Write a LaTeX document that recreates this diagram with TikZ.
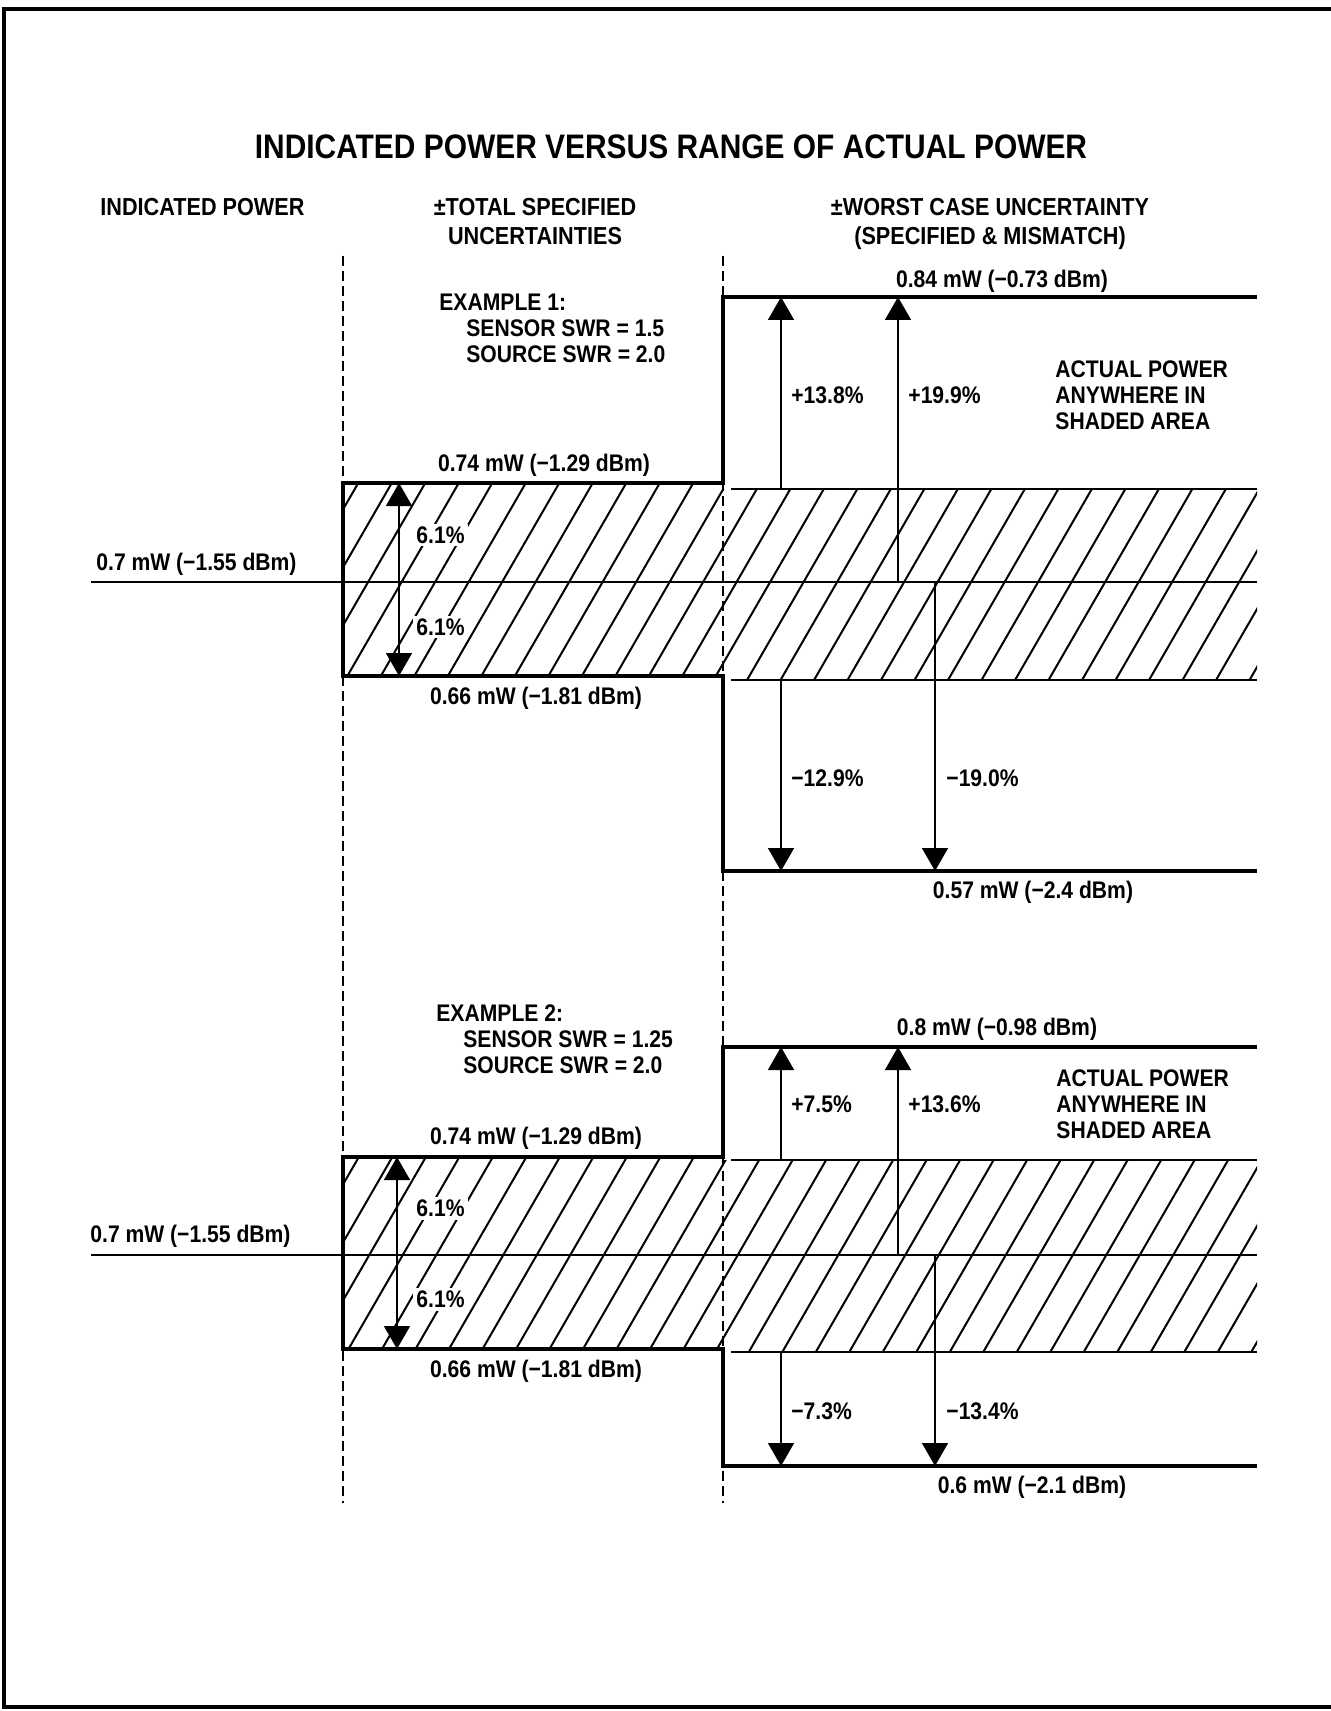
\documentclass[tikz,border=0pt]{standalone}
\usepackage{fontspec}
\setmainfont{Liberation Sans}[FakeStretch=0.88]
\usetikzlibrary{arrows.meta}
\tikzset{
  heavy/.style={line width=2.2pt},
  medline/.style={line width=1.4pt},
  thinline/.style={line width=0.9pt},
  hatchline/.style={line width=1pt},
  dashv/.style={line width=0.9pt, dash pattern=on 5pt off 2.5pt},
  arr/.style={line width=0.8pt, -{Triangle[length=11.5pt,width=13pt]}},
  darr/.style={line width=0.8pt, {Triangle[length=11.5pt,width=13pt]}-{Triangle[length=11.5pt,width=13pt]}},
  lbl/.style={font=\fontsize{12}{14}\selectfont\bfseries, inner sep=1pt},
  hdr/.style={font=\fontsize{12.3}{14.5}\selectfont\bfseries, inner sep=1pt, align=center},
  ttl/.style={font=\fontsize{17}{20}\selectfont\bfseries, inner sep=1pt},
  pct/.style={lbl, fill=white, inner sep=1.5pt},
  txtblock/.style={lbl, align=left, anchor=north west, font=\fontsize{12}{13}\selectfont\bfseries}
}
\begin{document}
\begin{tikzpicture}[x=0.5pt,y=-0.5pt]
\useasboundingbox (0,0) rectangle (1331,1711);
% frame
\draw[line width=1.8pt] (1331,9) -- (4,9) -- (4,1707) -- (1331,1707);

% title and headers
\node[ttl] (title) at (671,147) {INDICATED POWER VERSUS RANGE OF ACTUAL POWER};
\node[hdr, anchor=west] (h1) at (98,207) {INDICATED POWER};
\node[hdr] (h2) at (535,222) {±TOTAL SPECIFIED\\UNCERTAINTIES};
\node[hdr] (h3) at (990,224) {±WORST CASE UNCERTAINTY\\(SPECIFIED \& MISMATCH)};

% dashed column dividers
\draw[dashv] (343,256) -- (343,1503);
\draw[dashv] (723,256) -- (723,1503);

% ================= EXAMPLE 1 =================
\begin{scope}
\clip (343,483) rectangle (723,676) (723,489) rectangle (1257,680);
\foreach \i in {-4,...,30} \draw[hatchline] (300+\i*33.5,700) -- ++(127,-220);
\end{scope}
\draw[heavy] (1257,297) -- (723,297) -- (723,483) -- (343,483) -- (343,676) -- (723,676) -- (723,871) -- (1257,871);
\draw[medline] (731,489) -- (1257,489);
\draw[medline] (731,680) -- (1257,680);
\coordinate (m1l) at (91,582);
\coordinate (m1r) at (1257,582);
\draw[thinline] (m1l) -- (m1r);

\coordinate (a1t) at (399,483); \coordinate (a1b) at (399,676);
\draw[darr] (a1t) -- (a1b);
\coordinate (u1s) at (781,489); \coordinate (u1e) at (781,297);
\coordinate (u2s) at (898,582); \coordinate (u2e) at (898,297);
\coordinate (d1s) at (781,680); \coordinate (d1e) at (781,871);
\coordinate (d2s) at (935,582); \coordinate (d2e) at (935,871);
\draw[arr] (u1s) -- (u1e);
\draw[arr] (u2s) -- (u2e);
\draw[arr] (d1s) -- (d1e);
\draw[arr] (d2s) -- (d2e);

\node[txtblock] (ex1) at (437,292) {EXAMPLE 1:\\\hspace*{13.5pt}SENSOR SWR = 1.5\\\hspace*{13.5pt}SOURCE SWR = 2.0};
\node[lbl] (p1top) at (544,465) {0.74 mW (−1.29 dBm)};
\node[lbl] (p1bot) at (536,698) {0.66 mW (−1.81 dBm)};
\node[lbl, anchor=west] (ind1) at (94,564) {0.7 mW (−1.55 dBm)};
\node[pct, anchor=west] (s1a) at (413,535) {6.1\%};
\node[pct, anchor=west] (s1b) at (413,627) {6.1\%};
\node[lbl] (w1top) at (1002,281) {0.84 mW (−0.73 dBm)};
\node[lbl] (w1bot) at (1033,892) {0.57 mW (−2.4 dBm)};
\node[lbl, anchor=west] (u1l) at (789,395) {+13.8\%};
\node[lbl, anchor=west] (u2l) at (906,395) {+19.9\%};
\node[lbl, anchor=west] (d1l) at (789,778) {−12.9\%};
\node[lbl, anchor=west] (d2l) at (944,778) {−19.0\%};
\node[txtblock] (act1) at (1053,358) {ACTUAL POWER\\ANYWHERE IN\\SHADED AREA};

% ================= EXAMPLE 2 =================
\begin{scope}
\clip (343,1157) rectangle (723,1349) (723,1160) rectangle (1257,1352);
\foreach \i in {-4,...,30} \draw[hatchline] (300+\i*33.5,1375) -- ++(127,-220);
\end{scope}
\draw[heavy] (1257,1047) -- (723,1047) -- (723,1157) -- (343,1157) -- (343,1349) -- (723,1349) -- (723,1466) -- (1257,1466);
\draw[medline] (731,1160) -- (1257,1160);
\draw[medline] (731,1352) -- (1257,1352);
\coordinate (m2l) at (91,1255);
\coordinate (m2r) at (1257,1255);
\draw[thinline] (m2l) -- (m2r);

\coordinate (a2t) at (397,1157); \coordinate (a2b) at (397,1349);
\draw[darr] (a2t) -- (a2b);
\coordinate (v1s) at (781,1160); \coordinate (v1e) at (781,1047);
\coordinate (v2s) at (898,1255); \coordinate (v2e) at (898,1047);
\coordinate (e1s) at (781,1352); \coordinate (e1e) at (781,1466);
\coordinate (e2s) at (935,1255); \coordinate (e2e) at (935,1466);
\draw[arr] (v1s) -- (v1e);
\draw[arr] (v2s) -- (v2e);
\draw[arr] (e1s) -- (e1e);
\draw[arr] (e2s) -- (e2e);

\node[txtblock] (ex2) at (434,1002) {EXAMPLE 2:\\\hspace*{13.5pt}SENSOR SWR = 1.25\\\hspace*{13.5pt}SOURCE SWR = 2.0};
\node[lbl] (p2top) at (536,1138) {0.74 mW (−1.29 dBm)};
\node[lbl] (p2bot) at (536,1371) {0.66 mW (−1.81 dBm)};
\node[lbl, anchor=west] (ind2) at (88,1236) {0.7 mW (−1.55 dBm)};
\node[pct, anchor=west] (s2a) at (413,1208) {6.1\%};
\node[pct, anchor=west] (s2b) at (413,1299) {6.1\%};
\node[lbl] (w2top) at (997,1029) {0.8 mW (−0.98 dBm)};
\node[lbl] (w2bot) at (1032,1487) {0.6 mW (−2.1 dBm)};
\node[lbl, anchor=west] (v1l) at (789,1104) {+7.5\%};
\node[lbl, anchor=west] (v2l) at (906,1104) {+13.6\%};
\node[lbl, anchor=west] (e1l) at (789,1411) {−7.3\%};
\node[lbl, anchor=west] (e2l) at (944,1411) {−13.4\%};
\node[txtblock] (act2) at (1054,1067) {ACTUAL POWER\\ANYWHERE IN\\SHADED AREA};
\end{tikzpicture}
\end{document}
